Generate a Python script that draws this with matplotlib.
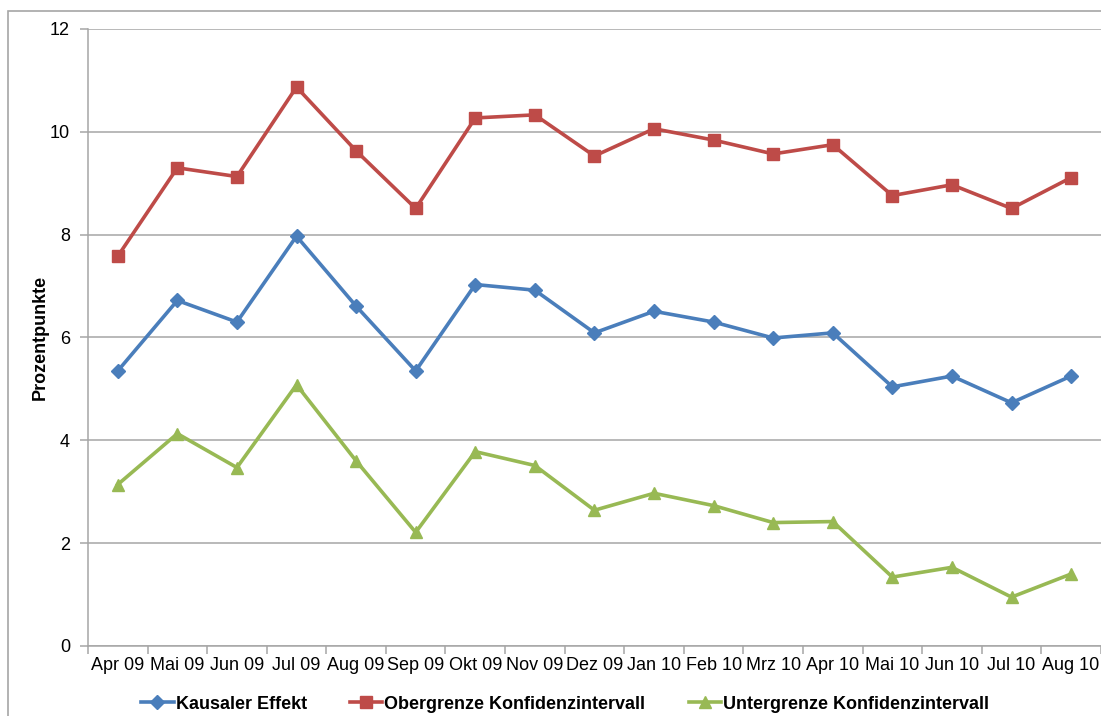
import matplotlib
matplotlib.use("Agg")
import matplotlib.pyplot as plt
import numpy as np
from matplotlib.patches import Rectangle

plt.rcParams['font.family'] = ['Liberation Sans', 'DejaVu Sans']

# Data
months = ["Apr 09", "Mai 09", "Jun 09", "Jul 09", "Aug 09", "Sep 09", "Okt 09",
          "Nov 09", "Dez 09", "Jan 10", "Feb 10", "Mrz 10", "Apr 10", "Mai 10",
          "Jun 10", "Jul 10", "Aug 10"]
kausal = [5.35, 6.72, 6.30, 7.97, 6.61, 5.35, 7.03, 6.92, 6.09, 6.51, 6.30,
          5.99, 6.09, 5.04, 5.25, 4.73, 5.25]
obergrenze = [7.58, 9.30, 9.13, 10.87, 9.63, 8.51, 10.27, 10.33, 9.53, 10.06,
              9.84, 9.57, 9.75, 8.76, 8.97, 8.51, 9.11]
untergrenze = [3.14, 4.13, 3.47, 5.08, 3.60, 2.21, 3.78, 3.51, 2.64, 2.97,
               2.73, 2.40, 2.42, 1.34, 1.53, 0.95, 1.40]

fig = plt.figure(figsize=(11.01, 7.16), dpi=100)
ax = fig.add_axes([0.0799, 0.0978, 0.92, 0.8617])

# outer chart border
fig.patches.append(Rectangle((8 / 1101, -0.01), 1.1, 1 - 11 / 716 + 0.01,
                             transform=fig.transFigure, fill=False,
                             edgecolor="#A6A6A6", linewidth=1.2))

x = np.arange(len(months))
ax.plot(x, kausal, color="#4A7EBB", lw=2.6, marker="D", ms=7,
        label="Kausaler Effekt", zorder=3)
ax.plot(x, obergrenze, color="#BE4B48", lw=2.6, marker="s", ms=8,
        label="Obergrenze Konfidenzintervall", zorder=3)
ax.plot(x, untergrenze, color="#98B954", lw=2.6, marker="^", ms=8,
        label="Untergrenze Konfidenzintervall", zorder=3)

ax.set_xlim(-0.5, len(months) - 0.5)
ax.set_ylim(0, 12)
ax.set_yticks(range(0, 13, 2))
ax.yaxis.grid(True, color="#A6A6A6", lw=1.1)
ax.set_axisbelow(True)

ax.set_xticks(x)
ax.set_xticklabels(months, fontsize=13)
ax.set_xticks(np.arange(-0.5, len(months)), minor=True)
ax.tick_params(axis="x", which="major", length=0, pad=8)
ax.tick_params(axis="x", which="minor", length=6, color="#A6A6A6", width=1.1)
ax.tick_params(axis="y", length=6, color="#A6A6A6", width=1.1, labelsize=13, pad=7)

for side in ["top", "right"]:
    ax.spines[side].set_visible(False)
for side in ["left", "bottom"]:
    ax.spines[side].set_color("#A6A6A6")
    ax.spines[side].set_linewidth(1.1)

ax.set_ylabel("Prozentpunkte", fontsize=13, fontweight="bold", labelpad=1)

leg = ax.legend(loc="upper center", bbox_to_anchor=(0.471, -0.054), ncol=3,
                frameon=False, prop={"weight": "bold", "size": 13},
                handlelength=1.8, columnspacing=2.4, handletextpad=0.1)

fig.savefig("out.png", dpi=100)
